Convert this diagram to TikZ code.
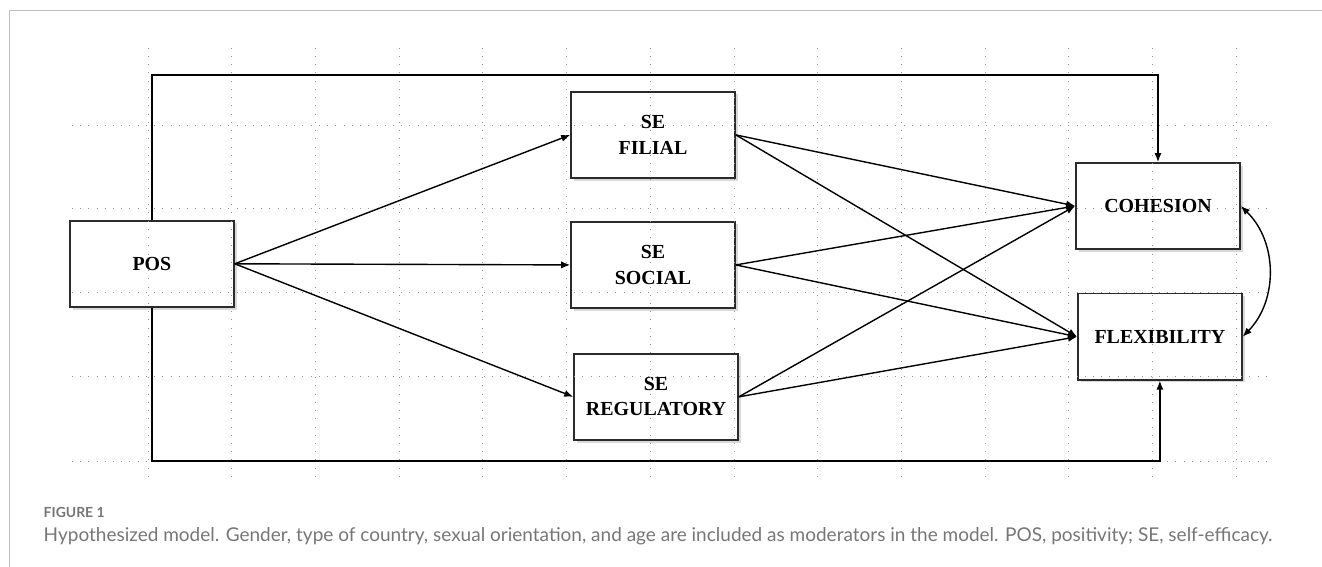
\documentclass[tikz,border=0pt]{standalone}
\usepackage{fontspec}
\setmainfont{Liberation Serif}
\newfontfamily\capfont{Lato}
\usetikzlibrary{arrows.meta, positioning, shadows}
\definecolor{frameg}{HTML}{BDBDBD}
\definecolor{dotg}{HTML}{949494}
\definecolor{boxedge}{HTML}{2B2B2B}
\definecolor{capg}{HTML}{767676}

\begin{document}
\begin{tikzpicture}[>={Latex[length=2.4mm, width=1.9mm]}, line width=1pt,
  gridline/.style={dotg, line width=0.75pt, dash pattern=on 0.75pt off 5.45pt},
  box/.style={draw=boxedge, fill=white, line width=1.2pt, minimum width=4.34cm,
    minimum height=2.28cm, align=center, font=\fontsize{15}{19}\selectfont\bfseries,
    drop shadow={shadow xshift=0.07cm, shadow yshift=-0.07cm, opacity=0.3}},
  link/.style={->, black, line width=1.05pt},
  captext/.style={anchor=base west, inner sep=0pt, text=capg}]

\useasboundingbox (0,0) rectangle (34.98,15.0);

% Page frame
\draw[frameg, line width=0.8pt] (34.98,14.71) -- (0.26,14.71) -- (0.26,0);

%% Boxes
\node[box] (pos) at (4.02,8.02) {POS};
\node[box] (filial) at (17.28,11.43) {SE\\FILIAL};
\node[box] (social) at (17.28,7.99) {SE\\SOCIAL};
\node[box] (regul) at (17.36,4.50) {SE\\REGULATORY};
\node[box] (coh) at (30.64,9.55) {COHESION};
\node[box] (flex) at (30.69,6.09) {FLEXIBILITY};

% Dotted grid
\foreach \i in {0,...,13} {
  \draw[gridline] ({3.92+2.2146*\i},2.38) -- ({3.92+2.2146*\i},13.73);
}
\foreach \y in {2.80,5.03,7.25,9.47,11.69} {
  \draw[gridline] (1.90,\y) -- (33.60,\y);
}

%% Paths
\draw[link] (pos.east) -- (filial.west);
\draw[link] (pos.east) -- (social.west);
\draw[link] (pos.east) -- (regul.west);
\foreach \s in {filial,social,regul} {
  \draw[link] (\s.east) -- (coh.west);
  \draw[link] (\s.east) -- (flex.west);
}

% Direct effects
\coordinate (topturn) at (30.64,13.02);
\coordinate (botturn) at (30.69,2.80);
\draw[link] (pos.north) |- (topturn) -- (coh.north);
\draw[link] (pos.south) |- (botturn) -- (flex.south);

% Covariance
\draw[link, <->] (coh.east) to[bend left=45] (flex.east);

%% Caption
\node[captext, font=\capfont\fontsize{10.5}{12}\selectfont\bfseries] (figlabel) at (1.14,1.32) {FIGURE 1};
\node[captext, font=\capfont\fontsize{14.3}{17}\selectfont] (caption) at (1.14,0.66) {Hypothesized model. Gender, type of country, sexual orientation, and age are included as moderators in the model. POS, positivity; SE, self-efficacy.};

\end{tikzpicture}
\end{document}
